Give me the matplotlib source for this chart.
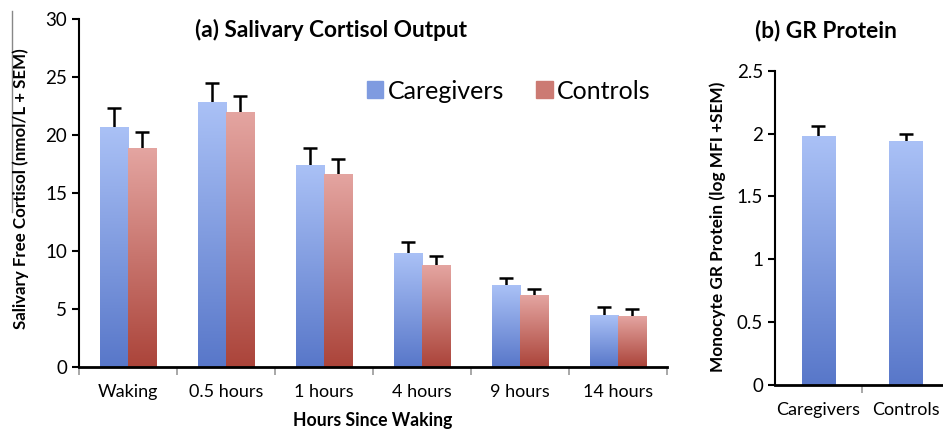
import numpy as np
import matplotlib.pyplot as plt
from matplotlib.colors import LinearSegmentedColormap
from matplotlib.patches import Patch
from matplotlib.lines import Line2D

plt.rcParams['font.family'] = ['Lato', 'DejaVu Sans']

# (a) salivary cortisol
times = ['Waking', '0.5 hours', '1 hours', '4 hours', '9 hours', '14 hours']
caregivers = [20.65, 22.8, 17.4, 9.75, 7.0, 4.45]
caregivers_sem = [1.7, 1.7, 1.45, 1.0, 0.7, 0.72]
controls = [18.85, 21.95, 16.6, 8.75, 6.15, 4.37]
controls_sem = [1.45, 1.45, 1.3, 0.85, 0.55, 0.66]

# (b) GR protein
groups = ['Caregivers', 'Controls']
gr = [1.975, 1.935]
gr_sem = [0.085, 0.065]

blue_cmap = LinearSegmentedColormap.from_list('b', ['#5877c9', '#aac1f6'])
red_cmap = LinearSegmentedColormap.from_list('r', ['#ab443a', '#e4a5a1'])
grad = np.linspace(0, 1, 256).reshape(-1, 1)


def gradient_bars(ax, bars, cmap):
    for b in bars:
        x0, y0 = b.get_x(), b.get_y()
        ax.imshow(grad, cmap=cmap, origin='lower', aspect='auto', zorder=2,
                  extent=(x0, x0 + b.get_width(), y0, y0 + b.get_height()))


fig = plt.figure(figsize=(9.43, 4.29), dpi=100)

# ---- left panel
ax = fig.add_axes([0.0838, 0.1445, 0.6235, 0.8112])
x = np.arange(len(times))
w = 0.286
b1 = ax.bar(x - w / 2, caregivers, w, color='none', zorder=2)
b2 = ax.bar(x + w / 2, controls, w, color='none', zorder=2)
gradient_bars(ax, b1, blue_cmap)
gradient_bars(ax, b2, red_cmap)
# symmetric error bars drawn behind the bars -> only the upper half shows
ax.errorbar(x - w / 2, caregivers, yerr=caregivers_sem, fmt='none',
            ecolor='black', elinewidth=1.8, capsize=5, capthick=1.8, zorder=1)
ax.errorbar(x + w / 2, controls, yerr=controls_sem, fmt='none',
            ecolor='black', elinewidth=1.8, capsize=5, capthick=1.8, zorder=1)
ax.set_xlim(-0.5, 5.5)
ax.set_ylim(0, 30)
ax.set_yticks(range(0, 31, 5))
ax.set_xticks(np.arange(-0.5, 6, 1))
ax.set_xticklabels([])
ax.set_xticks(x, minor=True)
ax.set_xticklabels(times, minor=True)
ax.tick_params(axis='x', which='major', length=6, width=1.2, color='#999999')
ax.tick_params(axis='x', which='minor', length=0, pad=12, labelsize=13)
ax.tick_params(axis='y', length=5, width=1.5, labelsize=13.5)
for s in ['top', 'right']:
    ax.spines[s].set_visible(False)
ax.spines['left'].set_linewidth(1.5)
ax.spines['bottom'].set_linewidth(2)
fig.text(0.351, 0.93, '(a) Salivary Cortisol Output', ha='center', va='center',
         fontsize=16.3, fontweight='bold')
ax.set_xlabel('Hours Since Waking', fontsize=12.7, fontweight='bold', labelpad=9)
handles = [Patch(color='#7f9be0'), Patch(color='#cc7a73')]
ax.legend(handles, ['Caregivers', 'Controls'], loc='center left', ncol=2,
          bbox_to_anchor=(0.468, 0.793), frameon=False, fontsize=18, borderpad=0,
          handlelength=0.65, handleheight=0.65, handletextpad=0.18, columnspacing=1.3)

fig.text(0.022, 0.56, 'Salivary Free Cortisol (nmol/L + SEM)', rotation=90,
         ha='center', va='center', fontsize=12.2, fontweight='bold')
fig.add_artist(Line2D([0.013, 0.013], [0.506, 0.974], color='#888888', lw=1))

# ---- right panel
ax2 = fig.add_axes([0.8218, 0.1026, 0.1782, 0.7326])
x2 = np.arange(len(groups))
b3 = ax2.bar(x2, gr, 0.39, color='none', zorder=2)
gradient_bars(ax2, b3, blue_cmap)
ax2.errorbar(x2, gr, yerr=gr_sem, fmt='none', ecolor='black',
             elinewidth=1.8, capsize=5, capthick=1.8, zorder=1)
ax2.set_xlim(-0.5, 1.43)
ax2.set_ylim(0, 2.5)
ax2.set_yticks([0, 0.5, 1, 1.5, 2, 2.5])
ax2.set_yticklabels(['0', '0.5', '1', '1.5', '2', '2.5'])
ax2.set_xticks([0.5])
ax2.set_xticklabels([])
ax2.set_xticks(x2, minor=True)
ax2.set_xticklabels(groups, minor=True)
ax2.tick_params(axis='x', which='major', length=6, width=1.2, color='#999999')
ax2.tick_params(axis='x', which='minor', length=0, pad=12, labelsize=13)
ax2.tick_params(axis='y', length=5, width=1.5, labelsize=13.5)
for s in ['top', 'right']:
    ax2.spines[s].set_visible(False)
ax2.spines['left'].set_linewidth(1.5)
ax2.spines['bottom'].set_linewidth(2)
fig.text(0.876, 0.93, '(b) GR Protein', ha='center', va='center', fontsize=16.3,
         fontweight='bold')
fig.text(0.7615, 0.471, 'Monocyte GR Protein (log MFI +SEM)', rotation=90,
         ha='center', va='center', fontsize=12.4, fontweight='bold')

fig.savefig('out.png', dpi=100)
